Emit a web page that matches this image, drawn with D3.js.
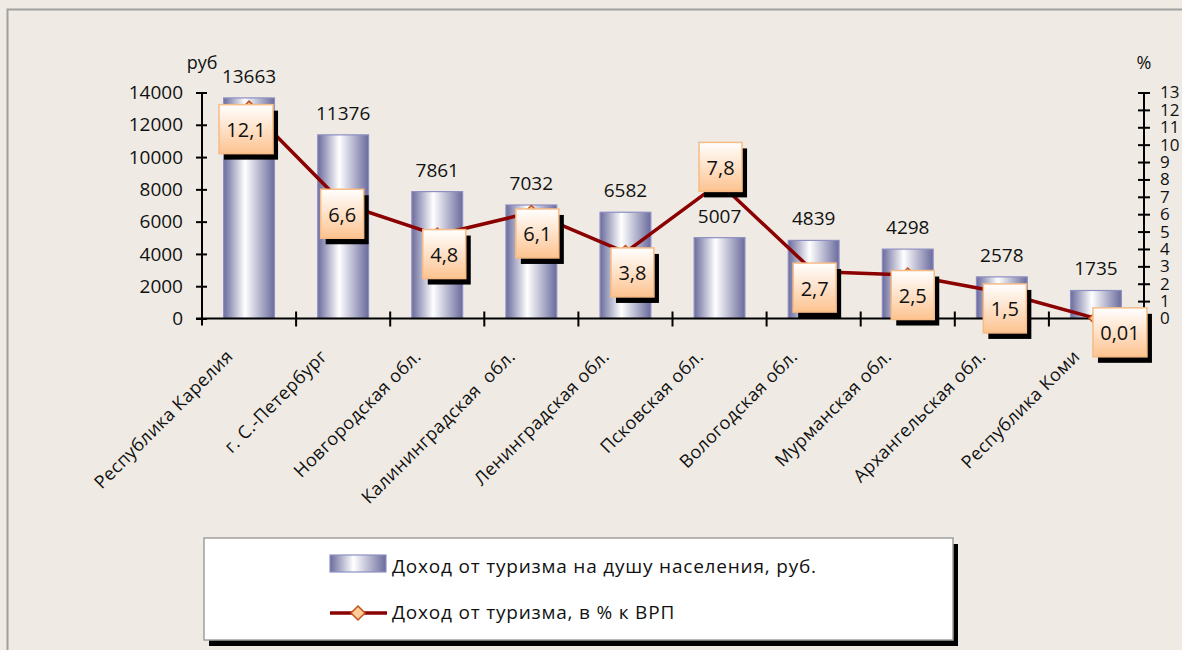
<!DOCTYPE html>
<html><head><meta charset="utf-8">
<script src="https://cdn.jsdelivr.net/npm/d3@7/dist/d3.min.js"></script>
<style>
html,body{margin:0;padding:0;background:#EFEBE4;}
svg{display:block;font-family:"Open Sans","Noto Sans",sans-serif;}
</style></head>
<body><svg id="chart" width="1182" height="650"></svg>
<script>
// ---- data ----
const categories = ["Республика Карелия","г. С.-Петербург","Новгородская обл.","Калининградская  обл.","Ленинградская обл.","Псковская обл.","Вологодская обл.","Мурманская обл.","Архангельская обл.","Республика Коми"];
const incomePerCapita = [13663, 11376, 7861, 7032, 6582, 5007, 4839, 4298, 2578, 1735];
const shareOfGRP = [12.1, 6.6, 4.8, 6.1, 3.8, 7.8, 2.7, 2.5, 1.5, 0.01];
const shareLabels = ["12,1","6,6","4,8","6,1","3,8","7,8","2,7","2,5","1,5","0,01"];
const leftTicks = [0,2000,4000,6000,8000,10000,12000,14000];
const rightTicks = [0,1,2,3,4,5,6,7,8,9,10,11,12,13];
const seriesNames = ["Доход от туризма на душу населения, руб.","Доход от туризма, в % к ВРП"];
const leftUnit = "руб", rightUnit = "%";

// ---- layout (label box offsets from points) ----
const labelOffsets = [[-3,21],[-1,10],[7,19],[6,21],[7,20],[1,-16],[1,16],[5,20],[3,16],[24,14]];

const svg = d3.select("#chart");
const defs = svg.append("defs");
const bg = defs.append("linearGradient").attr("id","barGrad").attr("x1","0").attr("x2","1").attr("y1","0").attr("y2","0");
bg.append("stop").attr("offset","0%").attr("stop-color","#6A6B9C");
bg.append("stop").attr("offset","42%").attr("stop-color","#FFFFFF");
bg.append("stop").attr("offset","100%").attr("stop-color","#6A6B9C");
const lg = defs.append("linearGradient").attr("id","lblGrad").attr("x1","0").attr("x2","0").attr("y1","0").attr("y2","1");
lg.append("stop").attr("offset","0%").attr("stop-color","#FFFFFF");
lg.append("stop").attr("offset","100%").attr("stop-color","#FDC390");

// outer border
svg.append("rect").attr("x",7.5).attr("y",9.5).attr("width",1200).attr("height",700)
  .attr("fill","#EFEBE4").attr("stroke","#A0A0A0").attr("stroke-width",2);

const plotTop = 92.5, plotBottom = 318.5, plotLeft = 202, plotRight = 1143;
const x = d3.scaleBand().domain(categories).range([plotLeft, plotRight]).paddingInner(0.46).paddingOuter(0.23);
const yL = d3.scaleLinear().domain([0,14000]).range([plotBottom, plotTop]);
const yR = d3.scaleLinear().domain([0,13]).range([plotBottom, plotTop]);
const cx = d => x(d) + x.bandwidth()/2;

// bars
svg.append("g").selectAll("rect").data(categories).join("rect")
  .attr("x", d => x(d)).attr("width", x.bandwidth())
  .attr("y", (d,i) => yL(incomePerCapita[i]))
  .attr("height", (d,i) => plotBottom - yL(incomePerCapita[i]))
  .attr("fill","url(#barGrad)").attr("stroke","#8E8FC2").attr("stroke-width",1.2);

// value labels
svg.append("g").selectAll("text").data(categories).join("text")
  .attr("x", d => cx(d)).attr("y", (d,i) => yL(incomePerCapita[i]) - 15)
  .attr("text-anchor","middle").attr("font-size",19).attr("fill","#111")
  .text((d,i) => incomePerCapita[i]);

// left axis
const axL = svg.append("g").attr("transform",`translate(${plotLeft},0)`)
  .call(d3.axisLeft(yL).tickValues(leftTicks).tickSize(6).tickPadding(13).tickFormat(d3.format("d")));
axL.select(".domain").attr("d",`M0,${plotTop}V${plotBottom+7}`).attr("stroke","#000").attr("stroke-width",2);
axL.selectAll(".tick line").attr("x1",5).attr("x2",-6).attr("stroke","#000").attr("stroke-width",2);
axL.selectAll(".tick text").attr("font-size",19).attr("fill","#111").attr("font-family","Open Sans");

// right axis
const axR = svg.append("g").attr("transform",`translate(1144,0)`)
  .call(d3.axisRight(yR).tickValues(rightTicks).tickSize(6).tickPadding(10));
axR.select(".domain").attr("d",`M0,${plotTop}V${plotBottom}`).attr("stroke","#000").attr("stroke-width",2);
axR.selectAll(".tick line").attr("x1",-6).attr("x2",6).attr("stroke","#000").attr("stroke-width",2);
axR.selectAll(".tick text").attr("font-size",17).attr("fill","#111").attr("font-family","Open Sans");

// bottom axis
const axB = svg.append("g").attr("transform",`translate(0,${plotBottom})`)
  .call(d3.axisBottom(x).tickSize(0).tickFormat(""));
axB.select(".domain").attr("d",`M${plotLeft-6},0H${plotRight+1}`).attr("stroke","#000").attr("stroke-width",2);
const gap = (x.step() - x.bandwidth())/2;
axB.selectAll(".tickmark").data(categories.slice(1)).join("line").attr("class","tickmark")
  .attr("x1", d => x(d) - gap).attr("x2", d => x(d) - gap)
  .attr("y1",-7).attr("y2",8).attr("stroke","#000").attr("stroke-width",2);

// category labels
svg.append("g").selectAll("text").data(categories).join("text")
  .attr("transform", d => `translate(${cx(d)-15},${plotBottom+39}) rotate(-45)`)
  .attr("text-anchor","end").attr("font-size",18).attr("letter-spacing",0.4).attr("fill","#111")
  .attr("xml:space","preserve").style("white-space","pre")
  .text(d => d);

// unit labels
svg.append("text").attr("x",202).attr("y",69).attr("text-anchor","middle").attr("font-size",18).attr("fill","#111").text(leftUnit);
svg.append("text").attr("x",1144).attr("y",69).attr("text-anchor","middle").attr("font-size",18).attr("fill","#111").text(rightUnit);

// line
const line = d3.line().x((d,i) => cx(categories[i])).y(d => yR(d));
svg.append("path").datum(shareOfGRP).attr("d", line).attr("fill","none")
  .attr("stroke","#8B0000").attr("stroke-width",3.5).attr("stroke-linejoin","round");
const diamond = s => `M0,${-s}L${s},0L0,${s}L${-s},0Z`;
svg.append("g").selectAll("path").data(shareOfGRP).join("path")
  .attr("transform",(d,i) => `translate(${cx(categories[i])},${yR(d)})`)
  .attr("d", diamond(7)).attr("fill","#FFCB99").attr("stroke","#C0521C").attr("stroke-width",1.5);

// data label boxes
const lblG = svg.append("g").selectAll("g").data(shareOfGRP).join("g")
  .attr("transform",(d,i) => `translate(${cx(categories[i]) + labelOffsets[i][0]},${yR(d) + labelOffsets[i][1]})`);
lblG.each(function(d,i){
  const g = d3.select(this);
  const w = shareLabels[i].length > 3 ? 54 : 43, h = 49;
  g.append("rect").attr("x",-w/2+5).attr("y",-h/2+6).attr("width",w).attr("height",h).attr("fill","#000");
  g.append("rect").attr("x",-w/2).attr("y",-h/2).attr("width",w).attr("height",h)
    .attr("fill","url(#lblGrad)").attr("stroke","#F7BB85").attr("stroke-width",1.5);
  g.append("text").attr("x",0).attr("y",8).attr("text-anchor","middle").attr("font-size",20).attr("fill","#111").text(shareLabels[i]);
});

// legend
const leg = svg.append("g");
leg.append("rect").attr("x",209).attr("y",544).attr("width",749).attr("height",102).attr("fill","#000");
leg.append("rect").attr("x",204).attr("y",538).attr("width",749).attr("height",102)
  .attr("fill","#FFFFFF").attr("stroke","#A0A0A0").attr("stroke-width",1.5);
leg.append("rect").attr("x",330).attr("y",555).attr("width",56).attr("height",17)
  .attr("fill","url(#barGrad)").attr("stroke","#8E8FC2").attr("stroke-width",1.2);
leg.append("text").attr("x",392).attr("y",573).attr("font-size",19).attr("letter-spacing",0.8).attr("fill","#111").text(seriesNames[0]);
leg.append("line").attr("x1",330).attr("x2",387).attr("y1",613).attr("y2",613).attr("stroke","#8B0000").attr("stroke-width",3.5);
leg.append("path").attr("transform","translate(358,613)").attr("d",diamond(7)).attr("fill","#FFCB99").attr("stroke","#C0521C").attr("stroke-width",1.5);
leg.append("text").attr("x",392).attr("y",619).attr("font-size",19).attr("letter-spacing",0.8).attr("fill","#111").text(seriesNames[1]);
</script></body></html>
